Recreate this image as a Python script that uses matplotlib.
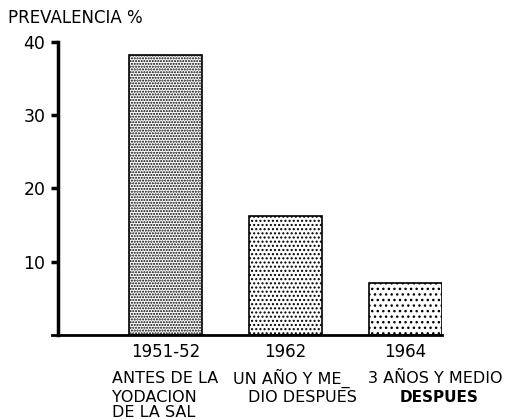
import matplotlib.pyplot as plt

years = ["1951-52", "1962", "1964"]
descriptions = [
    ["ANTES DE LA", "YODACION", "DE LA SAL"],
    ["UN AÑO Y ME_", "DIO DESPUES"],
    ["3 AÑOS Y MEDIO", "DESPUES"],
]
prevalence = [38.2, 16.2, 7.1]
hatches = ["......", "....", "..."]

plt.rcParams['font.family'] = 'DejaVu Sans'
plt.rcParams['hatch.linewidth'] = 1.0

fig = plt.figure(figsize=(5.19, 4.19), dpi=100)
ax = fig.add_axes([0.1002, 0.2005, 0.7514, 0.6993])

x = list(range(len(years)))
for xi, val, h in zip(x, prevalence, hatches):
    ax.bar(xi, val, width=0.61, color='white', edgecolor='black',
           hatch=h, linewidth=1.2)

ax.set_xlim(-0.95, 2.305)
ax.set_ylim(0, 40)
ax.spines['top'].set_visible(False)
ax.spines['right'].set_visible(False)
ax.spines['left'].set_position(('data', -0.9))
ax.spines['left'].set_linewidth(2.5)
ax.spines['bottom'].set_linewidth(2)

ax.set_yticks([10, 20, 30, 40])
ax.set_yticklabels(["10", "20", "30", "40"], fontsize=12.5)
ax.tick_params(axis='y', length=5, width=2.5, pad=4)
ax.set_xticks(x)
ax.set_xticklabels(years, fontsize=12)
ax.tick_params(axis='x', length=0, pad=6)

# description lines under the years (x in data units, y in axes units)
tr = ax.get_xaxis_transform()
line_y = [-0.147, -0.212, -0.266]
for i, line in enumerate(descriptions[0]):
    ax.text(-0.45, line_y[i], line, transform=tr, ha='left', va='center', fontsize=11.5)
ax.text(0.558, line_y[0], descriptions[1][0], transform=tr, ha='left', va='center', fontsize=11.5)
ax.text(0.683, line_y[1], descriptions[1][1], transform=tr, ha='left', va='center', fontsize=11.5)
ax.text(2.246, line_y[0], descriptions[2][0], transform=tr, ha='center', va='center', fontsize=11.5)
ax.text(2.283, line_y[1], descriptions[2][1], transform=tr, ha='center', va='center',
        fontsize=11, fontweight='bold')

fig.text(0.015, 0.957, "PREVALENCIA %", fontsize=12, ha='left', va='center')

fig.savefig("out.png", dpi=100)
